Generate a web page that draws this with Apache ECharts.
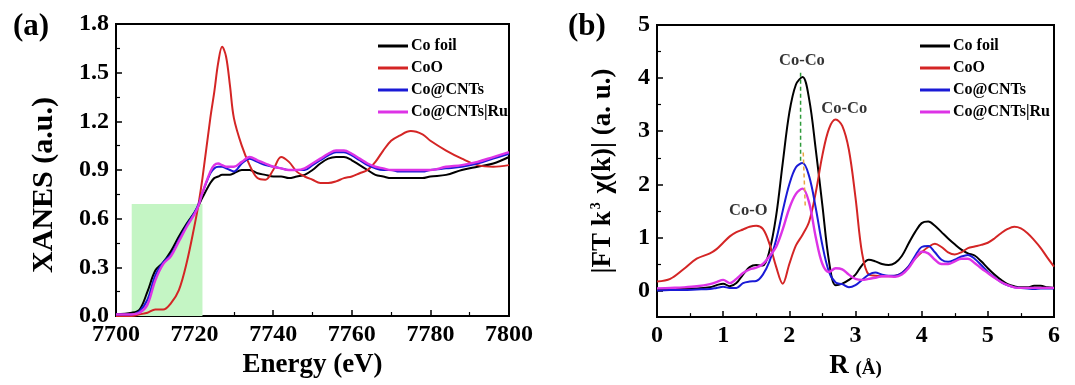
<!DOCTYPE html>
<html>
<head>
<meta charset="utf-8">
<script src="https://cdn.jsdelivr.net/npm/echarts@6/dist/echarts.min.js"></script>
<style>
  html, body { margin: 0; padding: 0; background: #fff; }
  #chart { width: 1075px; height: 385px; }
</style>
</head>
<body>
<div id="chart"></div>
<script>
// (a) XANES
const energy = [7700, 7704, 7706, 7708, 7710, 7712, 7714, 7716, 7718, 7720, 7721, 7722, 7724, 7725, 7726, 7727, 7728, 7729, 7730, 7732, 7734, 7736, 7738, 7740, 7742, 7744, 7746, 7748, 7750, 7752, 7754, 7756, 7758, 7760, 7762, 7764, 7766, 7768, 7770, 7772, 7775, 7778, 7780, 7784, 7788, 7792, 7796, 7800];
const xanesCoFoil = [0.01, 0.02, 0.04, 0.15, 0.28, 0.33, 0.40, 0.49, 0.57, 0.64, 0.68, 0.73, 0.82, 0.85, 0.86, 0.87, 0.87, 0.87, 0.88, 0.90, 0.90, 0.88, 0.87, 0.86, 0.86, 0.85, 0.86, 0.87, 0.90, 0.94, 0.97, 0.98, 0.98, 0.96, 0.93, 0.90, 0.87, 0.86, 0.85, 0.85, 0.85, 0.85, 0.86, 0.87, 0.90, 0.92, 0.94, 0.98];
const xanesCoO = [0.00, 0.00, 0.01, 0.02, 0.04, 0.04, 0.08, 0.16, 0.33, 0.56, 0.69, 0.85, 1.22, 1.38, 1.56, 1.66, 1.60, 1.42, 1.22, 1.05, 0.93, 0.85, 0.84, 0.90, 0.98, 0.95, 0.89, 0.86, 0.84, 0.82, 0.82, 0.83, 0.85, 0.86, 0.88, 0.90, 0.95, 1.02, 1.08, 1.11, 1.14, 1.12, 1.08, 1.02, 0.97, 0.93, 0.92, 0.93];
const xanesCoCNT = [0.01, 0.01, 0.03, 0.10, 0.25, 0.33, 0.38, 0.47, 0.56, 0.64, 0.69, 0.76, 0.88, 0.91, 0.92, 0.92, 0.91, 0.90, 0.89, 0.94, 0.97, 0.95, 0.93, 0.92, 0.91, 0.90, 0.90, 0.90, 0.93, 0.96, 0.99, 1.01, 1.01, 0.99, 0.96, 0.93, 0.91, 0.90, 0.90, 0.89, 0.89, 0.89, 0.90, 0.91, 0.92, 0.94, 0.97, 1.00];
const xanesCoCNTRu = [0.01, 0.01, 0.02, 0.07, 0.22, 0.32, 0.37, 0.46, 0.55, 0.63, 0.68, 0.76, 0.89, 0.93, 0.94, 0.93, 0.92, 0.92, 0.92, 0.95, 0.98, 0.96, 0.94, 0.92, 0.91, 0.90, 0.90, 0.91, 0.94, 0.97, 1.00, 1.02, 1.02, 1.00, 0.97, 0.94, 0.92, 0.91, 0.90, 0.90, 0.90, 0.90, 0.90, 0.92, 0.93, 0.95, 0.98, 1.01];
const preEdgeBox = [7704, 7722, 0, 0.69];

// (b) FT-EXAFS
const radius = [0, 0.2, 0.4, 0.6, 0.8, 0.9, 1.0, 1.1, 1.2, 1.3, 1.4, 1.5, 1.6, 1.7, 1.8, 1.9, 2.0, 2.1, 2.2, 2.3, 2.4, 2.5, 2.6, 2.7, 2.8, 2.9, 3.0, 3.1, 3.2, 3.3, 3.4, 3.5, 3.6, 3.7, 3.8, 3.9, 4.0, 4.1, 4.2, 4.3, 4.4, 4.5, 4.6, 4.7, 4.8, 4.9, 5.0, 5.1, 5.2, 5.3, 5.4, 5.5, 5.6, 5.7, 5.8, 5.9, 6.0];
const ftCoFoil = [0.03, 0.03, 0.04, 0.04, 0.06, 0.10, 0.13, 0.08, 0.14, 0.30, 0.44, 0.48, 0.47, 0.75, 1.40, 2.40, 3.35, 3.88, 4.02, 3.60, 2.65, 1.60, 0.55, 0.10, 0.13, 0.20, 0.30, 0.48, 0.58, 0.55, 0.50, 0.48, 0.52, 0.65, 0.88, 1.10, 1.27, 1.30, 1.22, 1.10, 0.98, 0.87, 0.77, 0.70, 0.66, 0.55, 0.42, 0.30, 0.20, 0.12, 0.08, 0.06, 0.06, 0.09, 0.09, 0.06, 0.05];
const ftCoO = [0.17, 0.22, 0.40, 0.60, 0.70, 0.78, 0.90, 1.02, 1.10, 1.15, 1.20, 1.22, 1.16, 0.88, 0.45, 0.13, 0.50, 0.85, 1.05, 1.30, 1.85, 2.55, 3.05, 3.22, 3.10, 2.65, 1.75, 0.70, 0.30, 0.28, 0.27, 0.27, 0.28, 0.33, 0.45, 0.60, 0.72, 0.82, 0.88, 0.82, 0.72, 0.68, 0.72, 0.80, 0.83, 0.86, 0.90, 0.98, 1.08, 1.16, 1.20, 1.17, 1.08, 0.95, 0.80, 0.62, 0.45];
const ftCoCNT = [0.00, 0.01, 0.01, 0.02, 0.03, 0.05, 0.07, 0.05, 0.05, 0.14, 0.17, 0.18, 0.30, 0.55, 0.95, 1.50, 2.00, 2.32, 2.40, 2.15, 1.55, 0.85, 0.35, 0.15, 0.12, 0.06, 0.10, 0.20, 0.30, 0.34, 0.30, 0.28, 0.28, 0.33, 0.45, 0.65, 0.82, 0.84, 0.72, 0.58, 0.54, 0.58, 0.64, 0.67, 0.60, 0.48, 0.35, 0.25, 0.16, 0.10, 0.06, 0.05, 0.04, 0.03, 0.04, 0.04, 0.04];
const ftCoCNTRu = [0.04, 0.05, 0.06, 0.08, 0.12, 0.16, 0.20, 0.14, 0.22, 0.33, 0.40, 0.43, 0.50, 0.65, 0.82, 1.15, 1.55, 1.82, 1.92, 1.65, 1.00, 0.50, 0.35, 0.42, 0.40, 0.30, 0.22, 0.20, 0.22, 0.24, 0.27, 0.27, 0.26, 0.30, 0.42, 0.60, 0.73, 0.70, 0.58, 0.50, 0.50, 0.55, 0.60, 0.60, 0.52, 0.42, 0.33, 0.24, 0.16, 0.10, 0.06, 0.05, 0.05, 0.05, 0.05, 0.05, 0.05];
const peakLabels = ['Co-Co', 'Co-Co', 'Co-O'];
const peakLabelR = [2.19, 2.83, 1.38];
const peakLabelY = [4.32, 3.42, 1.5];
const guideGreenR = [2.17, 2.17];
const guideGreenY = [4.1, 2.4];
const guideOrangeR = [2.21, 2.24];
const guideOrangeY = [2.6, 1.6];

const seriesNames = ['Co foil', 'CoO', 'Co@CNTs', 'Co@CNTs|Ru'];
const seriesColors = ['#000000', '#d42525', '#1a1ad6', '#dd33e6'];

const font = 'Liberation Serif, Times New Roman, serif';
const zip = (xs, ys) => xs.map((x, i) => [x, ys[i]]);

function curve(name, idx, xs, ys, axis) {
    return {
        name: name,
        type: 'line',
        xAxisIndex: axis,
        yAxisIndex: axis,
        data: zip(xs, ys),
        smooth: 0.35,
        symbol: 'none',
        lineStyle: { width: idx === 3 ? 2.4 : 2, color: seriesColors[idx] },
        itemStyle: { color: seriesColors[idx] },
        z: 3 + idx,
    };
}

const tickLabel = { color: '#000', fontFamily: font, fontWeight: 'bold', fontSize: 24, margin: 7 };

function valueAxis(extra) {
    return Object.assign({
        type: 'value',
        axisLine: { show: true, onZero: false, lineStyle: { color: '#000', width: 2 } },
        axisTick: { show: true, inside: true, length: 6, lineStyle: { color: '#000', width: 1.5 } },
        minorTick: { show: true, splitNumber: 2, length: 4, lineStyle: { color: '#000', width: 1.2 } },
        splitLine: { show: false },
        axisLabel: tickLabel,
        nameLocation: 'middle',
        nameTextStyle: { color: '#000', fontFamily: font, fontWeight: 'bold', fontSize: 27 },
    }, extra);
}

const legendBase = {
    orient: 'vertical',
    icon: 'rect',
    itemWidth: 30,
    itemHeight: 3,
    itemGap: 6,
    data: seriesNames,
    textStyle: { color: '#000', fontFamily: font, fontWeight: 'bold', fontSize: 16, padding: [0, 0, 0, -2] },
    selectedMode: false,
};

const myChart = echarts.init(document.getElementById('chart'));
myChart.setOption({
    backgroundColor: '#fff',
    animation: false,
    title: [
        { text: '(a)', left: 8, top: 6, textStyle: { fontFamily: font, fontWeight: 'bold', fontSize: 31, color: '#000' } },
        { text: '(b)', left: 563, top: 6, textStyle: { fontFamily: font, fontWeight: 'bold', fontSize: 31, color: '#000' } },
    ],
    legend: [
        Object.assign({ left: 373, top: 33 }, legendBase),
        Object.assign({ left: 915, top: 33 }, legendBase),
    ],
    grid: [
        { left: 116, top: 24, width: 393, height: 292, show: true, borderColor: '#000', borderWidth: 2 },
        { left: 657, top: 25, width: 397, height: 293, show: true, borderColor: '#000', borderWidth: 2 },
    ],
    xAxis: [
        valueAxis({
            gridIndex: 0, min: 7700, max: 7800, interval: 20,
            name: 'Energy (eV)', nameGap: 30,
            axisLabel: Object.assign({}, tickLabel, { formatter: v => String(v) }),
        }),
        valueAxis({
            gridIndex: 1, min: 0, max: 6, interval: 1,
            name: 'R {s|(Å)}', nameGap: 30,
            nameTextStyle: {
                color: '#000', fontFamily: font, fontWeight: 'bold', fontSize: 27,
                rich: { s: { fontFamily: font, fontWeight: 'bold', fontSize: 19, color: '#000', padding: [6, 0, 0, 0] } },
            },
        }),
    ],
    yAxis: [
        valueAxis({
            gridIndex: 0, min: 0, max: 1.8, interval: 0.3,
            name: 'XANES (a.u.)', nameGap: 57,
            nameTextStyle: { color: '#000', fontFamily: font, fontWeight: 'bold', fontSize: 30, padding: [0, 30, 0, 0] },
            axisLabel: Object.assign({}, tickLabel, { formatter: v => v.toFixed(1) }),
        }),
        valueAxis({
            gridIndex: 1, min: -0.5, max: 5, splitNumber: 5,
            name: '|FT k{sup|3} χ(k)| (a. u.)', nameGap: 40,
            nameTextStyle: {
                color: '#000', fontFamily: font, fontWeight: 'bold', fontSize: 27,
                rich: { sup: { fontFamily: font, fontWeight: 'bold', fontSize: 14, color: '#000', padding: [0, 2, 14, 2] } },
            },
            axisLabel: Object.assign({}, tickLabel, { formatter: v => (Number.isInteger(v) ? String(v) : '') }),
        }),
    ],
    series: [
        {
            type: 'line', xAxisIndex: 0, yAxisIndex: 0, data: [], silent: true, z: 1,
            markArea: {
                silent: true,
                itemStyle: { color: '#c4f5c4' },
                data: [[{ coord: [preEdgeBox[0], preEdgeBox[2]] }, { coord: [preEdgeBox[1], preEdgeBox[3]] }]],
            },
        },
        curve(seriesNames[0], 0, energy, xanesCoFoil, 0),
        curve(seriesNames[1], 1, energy, xanesCoO, 0),
        curve(seriesNames[2], 2, energy, xanesCoCNT, 0),
        curve(seriesNames[3], 3, energy, xanesCoCNTRu, 0),
        curve(seriesNames[0], 0, radius, ftCoFoil, 1),
        curve(seriesNames[1], 1, radius, ftCoO, 1),
        curve(seriesNames[2], 2, radius, ftCoCNT, 1),
        curve(seriesNames[3], 3, radius, ftCoCNTRu, 1),
        {
            type: 'line', xAxisIndex: 1, yAxisIndex: 1, symbol: 'none', z: 10,
            data: zip(guideGreenR, guideGreenY),
            lineStyle: { type: [4, 3], width: 1.5, color: '#2e9a3a' },
        },
        {
            type: 'line', xAxisIndex: 1, yAxisIndex: 1, symbol: 'none', z: 10,
            data: zip(guideOrangeR, guideOrangeY),
            lineStyle: { type: [4, 3], width: 1.5, color: '#e8a640' },
        },
        {
            type: 'scatter', xAxisIndex: 1, yAxisIndex: 1, symbolSize: 0, z: 11,
            data: peakLabels.map((t, i) => ({ name: t, value: [peakLabelR[i], peakLabelY[i]] })),
            label: {
                show: true, position: 'inside', formatter: p => p.name,
                color: '#000', fontFamily: font, fontWeight: 'bold', fontSize: 16.5,
            },
        },
    ],
});
</script>
</body>
</html>
